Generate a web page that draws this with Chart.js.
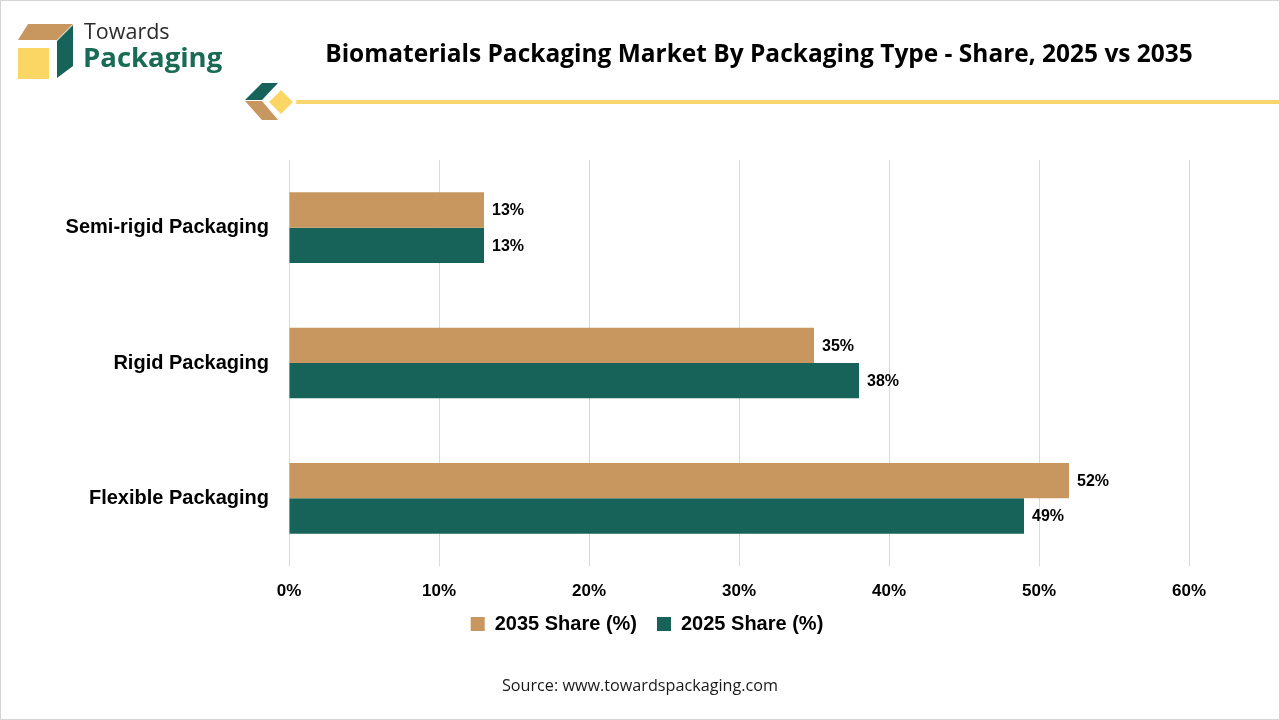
<!DOCTYPE html>
<html>
<head>
<meta charset="utf-8">
<script src="https://cdn.jsdelivr.net/npm/chart.js@4.4.1/dist/chart.umd.min.js"></script>
<style>
html,body{margin:0;padding:0;background:#fff;}
#wrap{position:relative;width:1280px;height:720px;}
canvas{display:block;}
</style>
</head>
<body>
<div id="wrap"><canvas id="c" width="1280" height="720"></canvas></div>
<script>
const categories = ["Semi-rigid Packaging", "Rigid Packaging", "Flexible Packaging"];
const seriesNames = ["2035 Share (%)", "2025 Share (%)"];
const share2035 = [13, 35, 52];
const share2025 = [13, 38, 49];
const xTicks = [0, 10, 20, 30, 40, 50, 60];

const TAN = "#C8965F";
const GREEN = "#17635A";
const LABEL_FONT = "'Liberation Sans', Arial, sans-serif";

const decor = {
  id: "decor",
  beforeDraw(chart) {
    const ctx = chart.ctx;
    ctx.save();
    ctx.fillStyle = "#fff";
    ctx.fillRect(0, 0, chart.width, chart.height);
    ctx.strokeStyle = "#d4d4d4";
    ctx.lineWidth = 1;
    ctx.strokeRect(0.5, 0.5, chart.width - 1, chart.height - 1);
    // logo cube
    ctx.fillStyle = "#C8965F";
    ctx.beginPath(); ctx.moveTo(28, 24); ctx.lineTo(73, 24); ctx.lineTo(57, 40); ctx.lineTo(18, 40); ctx.closePath(); ctx.fill();
    ctx.fillStyle = "#17635A";
    ctx.beginPath(); ctx.moveTo(57, 41); ctx.lineTo(73, 25); ctx.lineTo(73, 66); ctx.lineTo(57, 78); ctx.closePath(); ctx.fill();
    ctx.fillStyle = "#FCD664";
    ctx.fillRect(18, 48, 31, 31);
    // logo text
    ctx.textBaseline = "alphabetic";
    ctx.textAlign = "left";
    ctx.fillStyle = "#2b2b2b";
    ctx.font = "400 21.5px 'Open Sans', sans-serif";
    ctx.fillText("Towards", 84, 39);
    ctx.fillStyle = "#1A6B55";
    ctx.font = "700 27.5px 'Open Sans', sans-serif";
    ctx.fillText("Packaging", 83, 67);
    // chevron decor
    ctx.fillStyle = "#17635A";
    ctx.beginPath(); ctx.moveTo(262, 83); ctx.lineTo(278, 83); ctx.lineTo(262, 100); ctx.lineTo(245, 100); ctx.closePath(); ctx.fill();
    ctx.fillStyle = "#C8965F";
    ctx.beginPath(); ctx.moveTo(245, 101); ctx.lineTo(262, 101); ctx.lineTo(278, 120); ctx.lineTo(262, 120); ctx.closePath(); ctx.fill();
    // line
    ctx.strokeStyle = "#F7D66B";
    ctx.lineWidth = 4;
    ctx.beginPath(); ctx.moveTo(285, 102); ctx.lineTo(1280, 102); ctx.stroke();
    // diamond
    ctx.fillStyle = "#FCD664";
    ctx.strokeStyle = "#fff";
    ctx.lineWidth = 3;
    ctx.lineJoin = "round";
    ctx.beginPath(); ctx.moveTo(281, 88); ctx.lineTo(295, 102); ctx.lineTo(281, 116); ctx.lineTo(267, 102); ctx.closePath(); ctx.fill(); ctx.stroke();
    // title
    ctx.fillStyle = "#000";
    ctx.textAlign = "center";
    ctx.textBaseline = "middle";
    const title = "Biomaterials Packaging Market By Packaging Type - Share, 2025 vs 2035";
    let fs = 24;
    ctx.font = "700 " + fs + "px 'Open Sans', sans-serif";
    const w = ctx.measureText(title).width;
    fs = fs * 868 / w;
    ctx.font = "700 " + fs.toFixed(2) + "px 'Open Sans', sans-serif";
    ctx.fillText(title, 759, 55);
    // source
    ctx.font = "400 16.2px 'Open Sans', sans-serif";
    ctx.fillStyle = "#1a1a1a";
    ctx.fillText("Source: www.towardspackaging.com", 640, 686);
    ctx.restore();
  }
};

const legendShift = {
  id: "legendShift",
  afterLayout(chart) {
    const lg = chart.legend;
    if (!lg) return;
    const center = (lg.left + lg.right) / 2;
    const d = 647 - center;
    lg.left += d;
    lg.right += d;
    lg.top -= 9;
    lg.bottom -= 9;
  }
};

const valueLabels = {
  id: "valueLabels",
  afterDatasetsDraw(chart) {
    const ctx = chart.ctx;
    ctx.save();
    ctx.font = "700 16px " + LABEL_FONT;
    ctx.fillStyle = "#000";
    ctx.textAlign = "left";
    ctx.textBaseline = "middle";
    chart.data.datasets.forEach((ds, i) => {
      const meta = chart.getDatasetMeta(i);
      meta.data.forEach((bar, j) => {
        ctx.fillText(ds.data[j] + "%", bar.x + 8, bar.y + 1);
      });
    });
    ctx.restore();
  }
};

new Chart(document.getElementById("c"), {
  type: "bar",
  data: {
    labels: categories,
    datasets: [
      { label: seriesNames[0], data: share2035, backgroundColor: TAN, borderWidth: 0 },
      { label: seriesNames[1], data: share2025, backgroundColor: GREEN, borderWidth: 0 }
    ]
  },
  options: {
    indexAxis: "y",
    responsive: false,
    animation: false,
    devicePixelRatio: 1,
    layout: { padding: { left: 20, right: 91, top: 160, bottom: 67 } },
    scales: {
      x: {
        min: 0, max: 60,
        afterBuildTicks(scale) { scale.ticks = xTicks.map(v => ({ value: v })); },
        afterFit(scale) { scale.height = 37; },
        grid: { color: "#d9d9d9", drawTicks: false, lineWidth: 1 },
        border: { display: false },
        ticks: {
          padding: 15,
          color: "#000",
          font: { family: LABEL_FONT, size: 17, weight: "700" },
          callback: v => v + "%"
        }
      },
      y: {
        afterFit(scale) { scale.width = 269; },
        grid: { display: false, drawTicks: false },
        border: { display: false },
        ticks: {
          padding: 20,
          color: "#000",
          font: { family: LABEL_FONT, size: 20, weight: "700" }
        }
      }
    },
    datasets: { bar: { categoryPercentage: 0.522, barPercentage: 1.0 } },
    plugins: {
      legend: {
        position: "bottom",
        labels: {
          color: "#000",
          boxWidth: 14, boxHeight: 14,
          padding: 20,
          font: { family: LABEL_FONT, size: 20, weight: "700" }
        }
      },
      title: { display: false },
      tooltip: { enabled: false }
    }
  },
  plugins: [decor, legendShift, valueLabels]
});
</script>
</body>
</html>
